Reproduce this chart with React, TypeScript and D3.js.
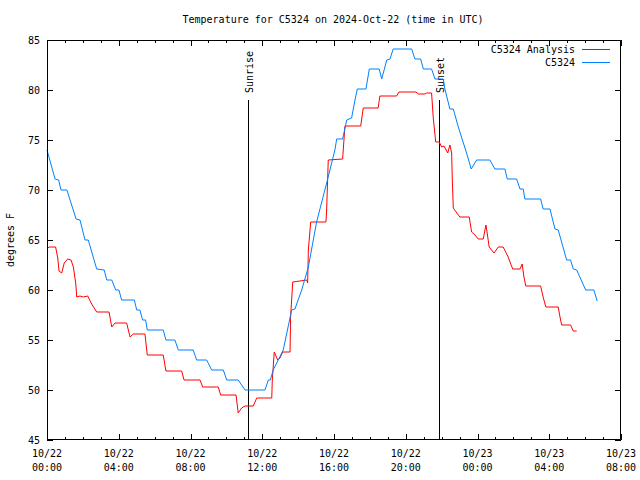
import React from "react";
import * as d3 from "d3";

// hours since 2024-10-22 00:00 UTC, temperature (F)
const analysisHours = [0.0,0.11,0.48,0.6,0.67,0.82,0.96,1.15,1.34,1.47,1.6,1.66,1.84,2.02,2.27,2.49,2.77,3.46,3.61,3.79,4.44,4.63,4.81,5.46,5.59,6.48,6.63,7.51,7.64,8.53,8.68,9.55,9.68,10.54,10.66,10.85,11.04,11.5,11.69,12.53,12.56,12.67,12.86,12.99,13.14,13.55,13.58,13.7,14.48,14.53,14.57,14.7,15.55,15.59,15.68,16.48,16.61,17.49,17.63,18.46,18.56,19.49,19.62,20.57,20.7,21.07,21.16,21.44,21.53,21.67,21.87,22.0,22.13,22.34,22.46,22.56,22.59,22.65,22.93,23.02,23.54,23.67,23.86,24.04,24.32,24.47,24.54,24.65,24.92,25.16,25.43,25.71,25.96,26.37,26.49,26.59,26.69,27.52,27.66,27.81,28.5,28.6,28.69,29.19,29.34,29.53];
const analysisTemps = [64.1,64.3,64.3,63.2,61.9,61.7,62.7,63.1,63.0,62.3,60.7,59.3,59.4,59.3,59.4,58.6,57.8,57.8,56.3,56.7,56.7,55.3,55.6,55.6,53.5,53.5,51.9,51.9,51.0,51.0,50.3,50.3,49.5,49.5,47.7,48.2,48.4,48.4,49.2,49.2,51.0,53.8,53.0,53.2,53.8,53.8,57.3,60.8,61.0,60.7,64.0,66.8,66.8,68.0,73.0,73.1,76.4,76.4,78.2,78.2,79.4,79.4,79.8,79.8,79.6,79.6,79.7,79.7,77.3,74.8,74.8,74.3,74.4,73.7,74.5,73.7,71.3,68.2,67.5,67.3,67.3,65.8,65.5,65.1,65.1,66.5,65.7,64.3,63.7,64.3,64.3,63.3,62.1,62.1,62.6,61.3,60.4,60.4,59.3,58.3,58.3,57.3,56.5,56.5,55.9,55.9];

const stationHours = [0.0,0.45,0.65,0.78,1.11,1.62,1.84,2.12,2.3,2.77,3.19,3.33,3.61,3.83,4.01,4.16,4.87,5.0,5.18,5.33,5.5,5.59,6.48,6.63,7.13,7.32,8.15,8.34,8.9,9.18,9.83,10.02,10.66,11.04,12.15,12.34,12.45,12.61,13.17,13.64,13.82,14.2,14.57,15.03,15.59,16.05,16.15,16.48,16.71,16.98,17.17,17.3,17.78,17.97,18.52,18.66,18.94,19.12,19.3,20.33,20.51,20.83,20.98,21.44,21.63,22.09,22.18,22.46,22.65,22.93,23.39,23.65,23.95,24.69,24.97,25.53,25.66,26.18,26.37,26.55,26.64,27.52,27.66,28.04,28.32,28.5,28.97,29.19,29.34,29.53,30.03,30.49,30.67];
const stationTemps = [74.0,71.1,71.0,70.0,70.0,67.1,67.0,65.0,65.0,62.1,62.0,61.0,61.0,60.0,60.0,59.0,59.0,58.0,58.0,57.0,57.0,56.0,56.0,55.0,55.0,54.0,54.0,53.0,53.0,52.0,52.0,51.0,51.0,50.0,50.0,51.0,51.0,52.0,54.0,58.0,58.1,60.0,62.3,66.8,70.7,74.0,75.1,75.1,77.0,77.2,79.0,80.1,80.1,82.1,82.1,81.1,83.0,83.1,84.1,84.1,83.1,83.1,82.1,82.1,81.1,81.1,80.1,78.1,78.1,76.3,73.7,72.1,73.0,73.0,72.1,72.1,71.1,71.1,70.1,70.1,69.1,69.1,68.1,68.1,66.1,66.0,63.0,63.0,62.1,62.0,60.0,60.0,58.9];

const xTickHours = [0, 4, 8, 12, 16, 20, 24, 28, 32];
const xTickDates = ["10/22", "10/22", "10/22", "10/22", "10/22", "10/22", "10/23", "10/23", "10/23"];
const xTickTimes = ["00:00", "04:00", "08:00", "12:00", "16:00", "20:00", "00:00", "04:00", "08:00"];
const yTicks = [45, 50, 55, 60, 65, 70, 75, 80, 85];
const sunEvents = [
  { label: "Sunrise", hour: 11.2 },
  { label: "Sunset", hour: 21.88 },
];
const seriesNames = ["C5324 Analysis", "C5324"];
const seriesColors = ["#ff0000", "#0080ff"];

const W = 640, H = 480;
const L = 47, R = 621, T = 40, B = 440;
const FONT = "'DejaVu Sans Mono', 'Liberation Mono', monospace";

export default function App() {
  const x = d3.scaleLinear().domain([0, 32]).range([L, R]);
  const y = d3.scaleLinear().domain([45, 85]).range([B, T]);
  const line = d3
    .line<[number, number]>()
    .x((d) => x(d[0]))
    .y((d) => y(d[1]));
  const analysis: [number, number][] = analysisHours.map((h, i) => [h, analysisTemps[i]]);
  const station: [number, number][] = stationHours.map((h, i) => [h, stationTemps[i]]);
  const minorHours = d3.range(0, 33, 1);

  return (
    <svg
      width={W}
      height={H}
      style={{ position: "absolute", left: 0, top: 0, background: "#fff" }}
      fontFamily={FONT}
      fontSize={10}
    >
      <rect x={0} y={0} width={W} height={H} fill="#fff" />
      <text x={333} y={23} textAnchor="middle" fill="#000">
        Temperature for C5324 on 2024-Oct-22 (time in UTC)
      </text>

      {/* ticks */}
      <g stroke="#000" strokeWidth={1} shapeRendering="crispEdges">
        {minorHours.map((h) => {
          const len = h % 4 === 0 ? 6 : 3;
          const xx = Math.round(x(h)) + 0.5;
          return (
            <g key={"xt" + h}>
              <line x1={xx} x2={xx} y1={B} y2={B - len} />
              <line x1={xx} x2={xx} y1={T} y2={T + len} />
            </g>
          );
        })}
        {yTicks.map((v) => {
          const yy = Math.round(y(v)) + 0.5;
          return (
            <g key={"yt" + v}>
              <line x1={L} x2={L + 6} y1={yy} y2={yy} />
              <line x1={R} x2={R - 6} y1={yy} y2={yy} />
            </g>
          );
        })}
      </g>

      {/* y labels */}
      {yTicks.map((v) => (
        <text key={"yl" + v} x={40} y={y(v) + 4} textAnchor="end" fill="#000">
          {v}
        </text>
      ))}
      {/* x labels */}
      {xTickHours.map((h, i) => (
        <g key={"xl" + h}>
          <text x={x(h)} y={457} textAnchor="middle" fill="#000">
            {xTickDates[i]}
          </text>
          <text x={x(h)} y={471} textAnchor="middle" fill="#000">
            {xTickTimes[i]}
          </text>
        </g>
      ))}
      <text transform={`translate(14,240) rotate(-90)`} textAnchor="middle" fill="#000">
        degrees F
      </text>

      {/* sunrise / sunset */}
      {sunEvents.map((e) => {
        const xx = Math.round(x(e.hour)) + 0.5;
        return (
          <g key={e.label}>
            <line x1={xx} x2={xx} y1={y(79)} y2={B} stroke="#000" strokeWidth={1} shapeRendering="crispEdges" />
            <text
              transform={`translate(${xx + 4},${y(79) - 7}) rotate(-90)`}
              textAnchor="start"
              fill="#000"
            >
              {e.label}
            </text>
          </g>
        );
      })}

      {/* series */}
      <path d={line(analysis) || ""} fill="none" stroke={seriesColors[0]} strokeWidth={1} />
      <path d={line(station) || ""} fill="none" stroke={seriesColors[1]} strokeWidth={1} />

      {/* legend */}
      {seriesNames.map((n, i) => (
        <g key={n}>
          <text x={575} y={53 + i * 13} textAnchor="end" fill="#000">
            {n}
          </text>
          <line x1={582} x2={610} y1={49.5 + i * 13} y2={49.5 + i * 13} stroke={seriesColors[i]} strokeWidth={1} />
        </g>
      ))}

      {/* border */}
      <rect x={L + 0.5} y={T + 0.5} width={R - L - 1} height={B - T - 1} fill="none" stroke="#000" strokeWidth={1} shapeRendering="crispEdges" />
    </svg>
  );
}
